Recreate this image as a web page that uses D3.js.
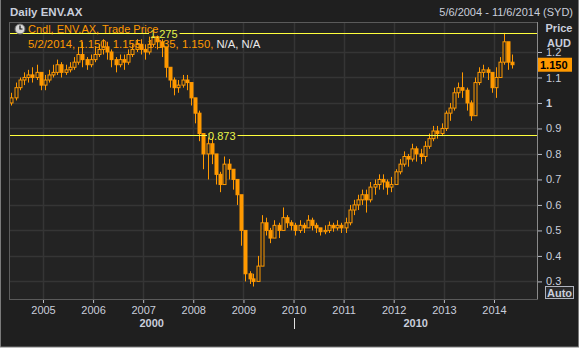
<!DOCTYPE html>
<html lang="en">
<head>
<meta charset="UTF-8">
<title>Daily ENV.AX</title>
<script src="https://cdn.jsdelivr.net/npm/d3@7"></script>
<style>
  * { margin: 0; padding: 0; }
  body { background: #fff; width: 581px; height: 351px; overflow: hidden; }
  svg { display: block; font-family: "Liberation Sans", Arial, sans-serif; }
  .axis text { fill: #c9cedb; font-size: 11px; }
  .axis path { display: none; }
  .axis line { stroke: #b8bcc6; }
</style>
</head>
<body>
<div id="chart"></div>
<script>
// monthly candles, May 2004 .. May 2014
var firstMonth = new Date(2004, 4, 1);
var firstOpen = 1.00;
var close = [
  1.02, 1.06, 1.09, 1.10, 1.11, 1.10, 1.12, 1.07,                         // 2004
  1.09, 1.11, 1.12, 1.15, 1.12, 1.13, 1.14, 1.16, 1.19, 1.17, 1.15, 1.17, // 2005
  1.19, 1.21, 1.22, 1.20, 1.17, 1.15, 1.17, 1.16, 1.19, 1.21, 1.23, 1.21, // 2006
  1.20, 1.23, 1.26, 1.24, 1.22, 1.14, 1.09, 1.06, 1.07, 1.09, 1.08, 1.02, // 2007
  0.96, 0.88, 0.80, 0.84, 0.80, 0.72, 0.68, 0.76, 0.74, 0.70, 0.64, 0.50, // 2008
  0.33, 0.31, 0.30, 0.36, 0.53, 0.50, 0.47, 0.52, 0.50, 0.55, 0.53, 0.52, // 2009
  0.50, 0.52, 0.51, 0.54, 0.52, 0.51, 0.495, 0.50, 0.52, 0.51, 0.52, 0.51, // 2010
  0.53, 0.58, 0.60, 0.62, 0.64, 0.62, 0.67, 0.68, 0.70, 0.69, 0.67, 0.68, // 2011
  0.73, 0.76, 0.79, 0.78, 0.82, 0.80, 0.79, 0.83, 0.86, 0.89, 0.88, 0.90, // 2012
  0.96, 0.98, 1.04, 1.06, 1.05, 1.00, 0.95, 1.08, 1.12, 1.13, 1.12, 1.06, // 2013
  1.10, 1.16, 1.24, 1.16, 1.15                                            // 2014
];
var high = [
  1.04, 1.08, 1.10, 1.12, 1.13, 1.14, 1.15, 1.12,
  1.11, 1.13, 1.15, 1.17, 1.16, 1.15, 1.16, 1.18, 1.22, 1.24, 1.18, 1.19,
  1.22, 1.23, 1.25, 1.24, 1.21, 1.18, 1.19, 1.19, 1.21, 1.23, 1.25, 1.25,
  1.23, 1.26, 1.275, 1.27, 1.25, 1.21, 1.14, 1.10, 1.09, 1.11, 1.11, 1.08,
  1.02, 0.97, 0.88, 0.88, 0.87, 0.79, 0.73, 0.79, 0.78, 0.74, 0.70, 0.62,
  0.46, 0.34, 0.33, 0.40, 0.56, 0.55, 0.51, 0.54, 0.53, 0.59, 0.56, 0.54,
  0.53, 0.54, 0.53, 0.56, 0.55, 0.53, 0.51, 0.52, 0.535, 0.53, 0.54, 0.53,
  0.55, 0.60, 0.62, 0.64, 0.66, 0.66, 0.69, 0.70, 0.72, 0.72, 0.70, 0.71,
  0.74, 0.78, 0.81, 0.80, 0.84, 0.83, 0.82, 0.85, 0.88, 0.91, 0.91, 0.92,
  0.97, 1.00, 1.06, 1.08, 1.12, 1.06, 1.01, 1.10, 1.14, 1.15, 1.14, 1.11,
  1.14, 1.18, 1.275, 1.23, 1.19
];
var low = [
  0.99, 1.01, 1.05, 1.07, 1.08, 1.08, 1.09, 1.05,
  1.05, 1.08, 1.10, 1.11, 1.10, 1.11, 1.12, 1.13, 1.15, 1.14, 1.13, 1.14,
  1.16, 1.18, 1.19, 1.17, 1.14, 1.12, 1.14, 1.13, 1.15, 1.18, 1.20, 1.19,
  1.17, 1.19, 1.22, 1.21, 1.18, 1.10, 1.06, 1.03, 1.04, 1.06, 1.05, 0.99,
  0.92, 0.85, 0.74, 0.70, 0.76, 0.68, 0.65, 0.68, 0.70, 0.66, 0.60, 0.44,
  0.30, 0.29, 0.28, 0.30, 0.38, 0.48, 0.45, 0.48, 0.47, 0.51, 0.51, 0.50,
  0.48, 0.49, 0.49, 0.51, 0.50, 0.49, 0.48, 0.485, 0.49, 0.495, 0.50, 0.49,
  0.49, 0.52, 0.56, 0.58, 0.60, 0.57, 0.61, 0.64, 0.66, 0.66, 0.64, 0.65,
  0.68, 0.72, 0.75, 0.75, 0.77, 0.77, 0.76, 0.77, 0.82, 0.85, 0.86, 0.87,
  0.89, 0.93, 0.97, 1.02, 1.02, 0.97, 0.93, 0.95, 1.07, 1.10, 1.09, 1.04,
  1.02, 1.12, 1.15, 1.13, 1.135
];
var priceTicks = [0.3, 0.4, 0.5, 0.6, 0.7, 0.8, 0.9, 1, 1.1, 1.2];
var refLines = [1.275, 0.873];
var lastPrice = 1.150;
var legendLine1 = "Cndl, ENV.AX, Trade Price";
var legendValues = "5/2/2014, 1.150, 1.155, 1.135, 1.150, ";
var legendNA = "N/A, N/A";
var decades = ["2000", "2010"];

var W = 581, H = 351;
var plotL = 9, plotR = 537, plotT = 22, plotB = 299;
var orange = "#ff9900", textCol = "#c9cedb";

var svg = d3.select("#chart").append("svg").attr("width", W).attr("height", H);

// frame
svg.append("rect").attr("x", 0.5).attr("y", -1).attr("width", 578).attr("height", 348)
  .attr("fill", "#1f1f1f").attr("stroke", "#7a7a7a");
svg.append("rect").attr("x", plotL).attr("y", plotT).attr("width", plotR - plotL).attr("height", plotB - plotT)
  .attr("fill", "#232323");

var xScale = d3.scaleTime()
  .domain([new Date(2005, 0, 1), new Date(2014, 0, 1)])
  .range([43, 494]);
var yScale = d3.scaleLinear().domain([0.231, 1.3176]).range([plotB, plotT]);

var years = d3.timeYear.range(new Date(2005, 0, 1), new Date(2015, 0, 1));

// grid
var grid = svg.append("g").attr("stroke", "#353535").attr("stroke-width", 1.5);
grid.selectAll(".gx").data(years).enter().append("line")
  .attr("x1", function(d) { return Math.round(xScale(d)) + 0.5; })
  .attr("x2", function(d) { return Math.round(xScale(d)) + 0.5; })
  .attr("y1", plotT).attr("y2", plotB);
grid.selectAll(".gy").data(priceTicks).enter().append("line")
  .attr("x1", plotL).attr("x2", plotR)
  .attr("y1", function(d) { return Math.round(yScale(d)) + 0.5; })
  .attr("y2", function(d) { return Math.round(yScale(d)) + 0.5; });

// candles
var candles = close.map(function(c, i) {
  return {
    date: d3.timeDay.offset(d3.timeMonth.offset(firstMonth, i), 14),
    open: i ? close[i - 1] : firstOpen,
    high: high[i], low: low[i], close: c
  };
});
var cw = 3;
var cg = svg.append("g");
cg.selectAll(".wick").data(candles).enter().append("line")
  .attr("x1", function(d) { return Math.round(xScale(d.date)) + 0.5; })
  .attr("x2", function(d) { return Math.round(xScale(d.date)) + 0.5; })
  .attr("y1", function(d) { return yScale(d.high); })
  .attr("y2", function(d) { return yScale(d.low); })
  .attr("stroke", orange).attr("stroke-width", 1);
cg.selectAll(".body").data(candles).enter().append("rect")
  .attr("x", function(d) { return Math.round(xScale(d.date)) - 1; })
  .attr("y", function(d) { return yScale(Math.max(d.open, d.close)); })
  .attr("width", cw)
  .attr("height", function(d) { return Math.max(1, Math.abs(yScale(d.open) - yScale(d.close))); })
  .attr("fill", function(d) { return d.close >= d.open ? "#232323" : orange; })
  .attr("stroke", orange).attr("stroke-width", 1);

// reference lines with labels
var labelX = [148, 206];
refLines.forEach(function(v, i) {
  var y = Math.round(yScale(v)) + 0.5;
  svg.append("line").attr("x1", plotL).attr("x2", plotR).attr("y1", y).attr("y2", y)
    .attr("stroke", "#ffff3c").attr("stroke-width", 1);
  var t = svg.append("text").attr("x", labelX[i] + 2).attr("y", y + 4)
    .attr("font-size", 11).attr("fill", "#e6f54a").text(d3.format(".3f")(v));
  var bb = t.node().getBBox();
  svg.insert("rect", function() { return t.node(); })
    .attr("x", bb.x - 1).attr("y", y - 1).attr("width", bb.width + 3).attr("height", 3)
    .attr("fill", "#232323");
});

// plot border
svg.append("rect").attr("x", plotL + 0.5).attr("y", plotT + 0.5)
  .attr("width", plotR - plotL).attr("height", plotB - plotT)
  .attr("fill", "none").attr("stroke", "#5a5a5a");
svg.append("line").attr("x1", plotR + 0.5).attr("x2", plotR + 0.5).attr("y1", plotT).attr("y2", plotB)
  .attr("stroke", "#8a8a8a");

// axes
var xAxis = d3.axisBottom(xScale).tickValues(years.slice(0, 10))
  .tickFormat(d3.timeFormat("%Y")).tickSize(3).tickPadding(3);
svg.append("g").attr("class", "axis").attr("transform", "translate(0," + (plotB + 1) + ")").call(xAxis);

var yAxis = d3.axisRight(yScale).tickValues(priceTicks)
  .tickFormat(function(d) { return d === 1 ? "1" : d3.format(".1f")(d); })
  .tickSize(4).tickPadding(4);
var ya = svg.append("g").attr("class", "axis").attr("transform", "translate(" + (plotR + 1) + ",0)").call(yAxis);
ya.selectAll("text").filter(function(d) { return d === 1; }).attr("font-weight", "bold");

// last price flag
var ly = yScale(lastPrice);
svg.append("rect").attr("x", plotR + 1).attr("y", ly - 7).attr("width", 34).attr("height", 14).attr("fill", orange);
svg.append("text").attr("x", plotR + 3).attr("y", ly + 4).attr("font-size", 11).attr("font-weight", "bold")
  .attr("fill", "#000").text(d3.format(".3f")(lastPrice));

svg.append("text").attr("x", 559).attr("y", 32).attr("text-anchor", "middle").attr("font-size", 11)
  .attr("font-weight", "bold").attr("fill", textCol).text("Price");
svg.append("text").attr("x", 559).attr("y", 47).attr("text-anchor", "middle").attr("font-size", 11)
  .attr("font-weight", "bold").attr("fill", textCol).text("AUD");

// Auto box
svg.append("rect").attr("x", 545.5).attr("y", 286.5).attr("width", 28).attr("height", 12)
  .attr("fill", "#2a2a2a").attr("stroke", "#b0b4be");
svg.append("text").attr("x", 559.5).attr("y", 296.5).attr("text-anchor", "middle").attr("font-size", 11)
  .attr("font-weight", "bold").attr("fill", textCol).text("Auto");

// decade labels
var dividerX = Math.round(xScale(new Date(2010, 0, 1))) + 0.5;
svg.append("line").attr("x1", dividerX).attr("x2", dividerX).attr("y1", 318).attr("y2", 329)
  .attr("stroke", "#e0e0e0");
svg.selectAll(".dec").data(decades).enter().append("text")
  .attr("x", function(d, i) { return i ? (dividerX + plotR) / 2 : (plotL + dividerX) / 2; })
  .attr("y", 327).attr("text-anchor", "middle").attr("font-size", 11).attr("font-weight", "bold")
  .attr("fill", textCol).text(function(d) { return d; });

// title and date range
svg.append("text").attr("x", 10).attr("y", 16).attr("font-size", 11.5).attr("font-weight", "bold")
  .attr("fill", textCol).text("Daily ENV.AX");
svg.append("text").attr("x", 573).attr("y", 16).attr("text-anchor", "end").attr("font-size", 11)
  .attr("fill", textCol).text("5/6/2004 - 11/6/2014 (SYD)");

// legend
var clock = svg.append("g").attr("transform", "translate(20,29)");
clock.append("circle").attr("r", 5).attr("fill", "#d8d8d8").attr("stroke", "#666");
clock.append("path").attr("d", "M0,-3.5V0H2.5").attr("fill", "none").attr("stroke", "#111").attr("stroke-width", 1.2);
svg.append("text").attr("x", 28).attr("y", 33).attr("font-size", 11).attr("fill", orange).text(legendLine1);
var lv = svg.append("text").attr("x", 28).attr("y", 48).attr("font-size", 11.3);
lv.append("tspan").attr("fill", orange).text(legendValues);
lv.append("tspan").attr("fill", "#e8e8e8").text(legendNA);
</script>
</body>
</html>
